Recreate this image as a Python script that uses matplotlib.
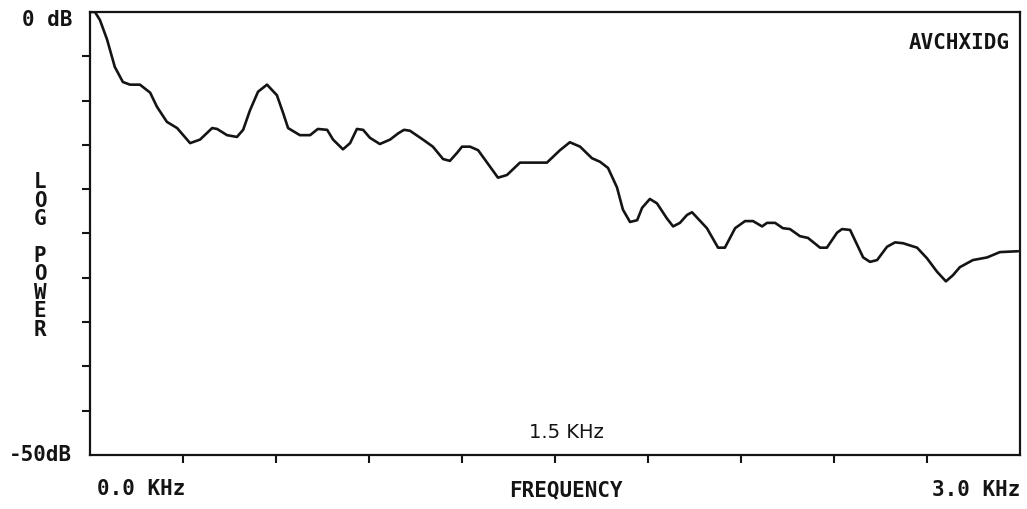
import matplotlib
matplotlib.use("Agg")
import matplotlib.pyplot as plt

# Spectrum trace: frequency (kHz) and log power (dB)
freq_khz = [0.000, 0.016, 0.032, 0.055, 0.080, 0.106, 0.129, 0.161, 0.194, 0.216,
            0.248, 0.281, 0.323, 0.355, 0.394, 0.410, 0.442, 0.474, 0.494, 0.516,
            0.542, 0.571, 0.603, 0.623, 0.639, 0.677, 0.710, 0.735, 0.765, 0.784,
            0.816, 0.839, 0.861, 0.881, 0.903, 0.935, 0.968, 0.994, 1.013, 1.032,
            1.074, 1.106, 1.139, 1.161, 1.184, 1.200, 1.226, 1.252, 1.281, 1.316,
            1.345, 1.387, 1.474, 1.516, 1.548, 1.581, 1.619, 1.645, 1.671, 1.700,
            1.719, 1.742, 1.765, 1.781, 1.806, 1.829, 1.861, 1.881, 1.903, 1.926,
            1.942, 1.990, 2.026, 2.048, 2.081, 2.113, 2.139, 2.168, 2.184, 2.210,
            2.235, 2.258, 2.290, 2.316, 2.355, 2.377, 2.410, 2.426, 2.452, 2.494,
            2.516, 2.539, 2.571, 2.597, 2.623, 2.668, 2.700, 2.732, 2.761, 2.784,
            2.806, 2.848, 2.894, 2.935, 2.994]
power_db = [0.0, 0.0, -0.9, -3.1, -6.2, -7.9, -8.2, -8.2, -9.1, -10.7,
            -12.4, -13.1, -14.8, -14.4, -13.1, -13.2, -13.9, -14.1, -13.3, -11.1,
            -9.0, -8.2, -9.4, -11.4, -13.1, -13.9, -13.9, -13.2, -13.3, -14.4,
            -15.5, -14.8, -13.2, -13.3, -14.2, -14.9, -14.4, -13.7, -13.3, -13.4,
            -14.4, -15.2, -16.6, -16.8, -15.9, -15.2, -15.2, -15.6, -17.0, -18.7,
            -18.4, -17.0, -17.0, -15.6, -14.7, -15.2, -16.5, -16.9, -17.6, -19.8,
            -22.3, -23.7, -23.5, -22.1, -21.1, -21.6, -23.3, -24.2, -23.8, -22.9,
            -22.6, -24.4, -26.6, -26.6, -24.4, -23.6, -23.6, -24.2, -23.8, -23.8,
            -24.4, -24.5, -25.3, -25.5, -26.6, -26.6, -24.9, -24.5, -24.6, -27.7,
            -28.2, -28.0, -26.5, -26.0, -26.1, -26.6, -27.8, -29.3, -30.4, -29.7,
            -28.8, -28.0, -27.7, -27.1, -27.0]

x_ticks = [0.3, 0.6, 0.9, 1.2, 1.5, 1.8, 2.1, 2.4, 2.7]
y_ticks = [-5, -10, -15, -20, -25, -30, -35, -40, -45]

W, H = 1027, 509
fig = plt.figure(figsize=(W / 100, H / 100), dpi=100)
fig.patch.set_facecolor("white")

ax = fig.add_axes([90 / W, 1 - 455 / H, (1020 - 90) / W, (455 - 12) / H])
ax.plot(freq_khz, power_db, color="#141414", lw=1.9,
        solid_joinstyle="round", solid_capstyle="round")
ax.set_xlim(0, 3.0)
ax.set_ylim(-50, 0)
ax.set_xticks(x_ticks)
ax.set_yticks(y_ticks)
ax.set_xticklabels([])
ax.set_yticklabels([])
ax.tick_params(axis="both", direction="out", length=6, width=1.5, color="#141414")
for s in ax.spines.values():
    s.set_linewidth(1.6)
    s.set_color("#141414")

mono = dict(family="DejaVu Sans Mono", weight="bold", color="#141414", fontsize=15)

def px(x, y):
    return x / W, 1 - y / H

fig.text(*px(72, 20), "0 dB", ha="right", va="center", **mono)
fig.text(*px(72, 455), "-50dB", ha="right", va="center", **mono)
fig.text(*px(141, 489), "0.0 KHz", ha="center", va="center", **mono)
fig.text(*px(566, 490), "FREQUENCY", ha="center", va="center", **mono)
fig.text(*px(1020, 490), "3.0 KHz", ha="right", va="center", **mono)
fig.text(*px(1010, 43), "AVCHXIDG", ha="right", va="center", **mono)
fig.text(*px(40, 256), "\n".join("LOG POWER"), ha="center", va="center",
         linespacing=0.9, **mono)
fig.text(*px(566, 433), "1.5 KHz", ha="center", va="center",
         family="DejaVu Sans", fontsize=14, color="#141414")

fig.savefig("out.png", dpi=100, facecolor="white")
